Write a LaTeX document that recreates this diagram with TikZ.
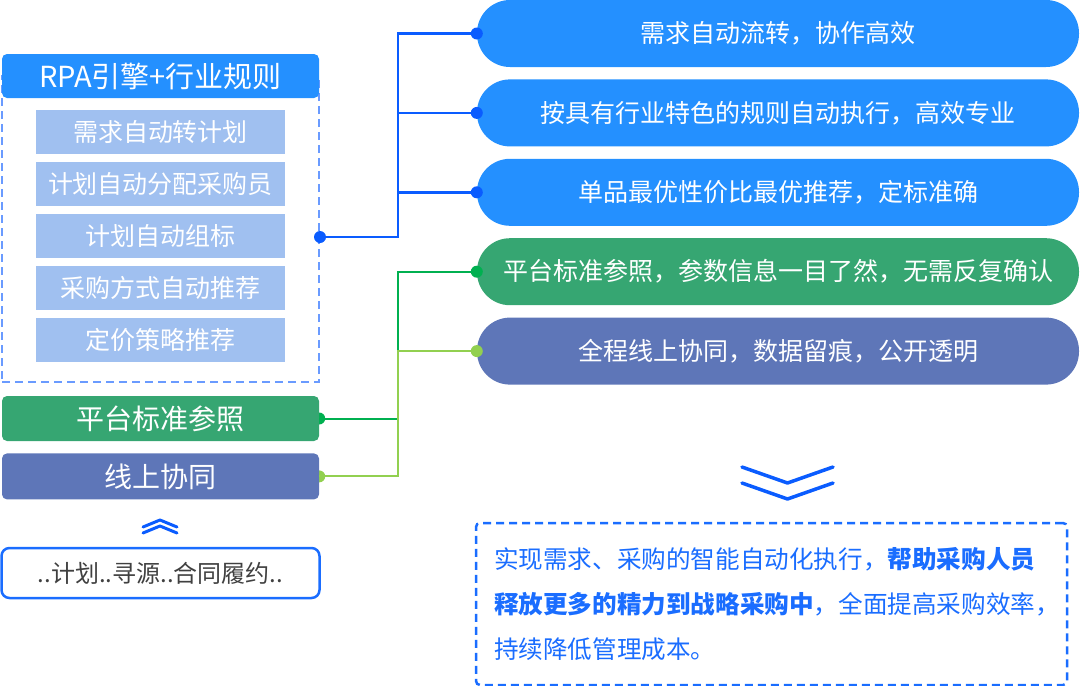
\documentclass[tikz,border=0pt]{standalone}
\usepackage{fontspec}
\setmainfont{Noto Sans CJK SC}
\usetikzlibrary{positioning,backgrounds}

\definecolor{pillblue}{HTML}{2490FF}
\definecolor{stepfill}{HTML}{A0C0F0}
\definecolor{tagGreen}{HTML}{36A672}
\definecolor{tagPurple}{HTML}{5E76B8}
\definecolor{linkBlue}{HTML}{0A5CFF}
\definecolor{linkGreen}{HTML}{00B050}
\definecolor{linkLime}{HTML}{92D050}
\definecolor{dashLight}{HTML}{6A9BFF}
\definecolor{sumBlue}{HTML}{1A6DFF}
\definecolor{flowGray}{HTML}{404040}

\begin{document}
\begin{tikzpicture}[x=1pt,y=-1pt,
      pill/.style={
         rectangle,
         rounded corners=33pt,
         fill=#1,
         minimum width=602pt,
         minimum height=67pt,
         inner sep=0pt,
         text=white,
         font=\fontsize{25}{30}\selectfont},
      stepbox/.style={
         fill=stepfill,
         minimum width=249pt,
         minimum height=44pt,
         inner sep=0pt,
         text=white,
         font=\fontsize{25}{29}\selectfont},
      tagbox/.style={
         rounded corners=5pt,
         fill=#1,
         minimum width=317pt,
         minimum height=45pt,
         inner sep=0pt,
         text=white,
         font=\fontsize{28}{32}\selectfont},
      dot/.style={circle,fill=#1,inner sep=0pt,minimum size=12pt},
      blueline/.style={draw=linkBlue,line width=2.5pt},
      greenline/.style={draw=#1,line width=2pt},
      chevron/.style={draw=linkBlue,line width=3.5pt,line cap=round,line join=round},
      node distance=12pt
      ]
      \useasboundingbox (0,0) rectangle (1080,686);

      % left column
      \node[draw=dashLight,line width=2pt,dash pattern=on 8pt off 5pt,
            minimum width=317pt,minimum height=306pt,inner sep=0pt] (rules) at (160.5,229) {};
      \node[fill=pillblue,rounded corners=5pt,minimum width=317pt,minimum height=44pt,
            inner sep=0pt,text=white,font=\fontsize{29}{34}\selectfont] (rpa) at (160.5,76) {RPA引擎+行业规则};
      \node[stepbox] (s1) at (160.5,132) {需求自动转计划};
      \node[stepbox,below=7.5pt of s1] (s2) {计划自动分配采购员};
      \node[stepbox,below=7.5pt of s2] (s3) {计划自动组标};
      \node[stepbox,below=7.5pt of s3] (s4) {采购方式自动推荐};
      \node[stepbox,below=7.5pt of s4] (s5) {定价策略推荐};

      \node[tagbox=tagGreen] (std) at (160.5,418.5) {平台标准参照};
      \node[tagbox=tagPurple,minimum height=46pt,below=of std] (online) {线上协同};

      \node[draw=sumBlue,line width=2.5pt,rounded corners=8pt,minimum width=318pt,
            minimum height=50pt,inner sep=0pt,text=flowGray,
            font=\fontsize{24}{28}\selectfont] (flow) at (160.5,573) {..计划..寻源..合同履约..};

      % right column
      \node[pill=pillblue] (p1) at (778,33.5) {需求自动流转，协作高效};
      \node[pill=pillblue,below=of p1] (p2) {按具有行业特色的规则自动执行，高效专业};
      \node[pill=pillblue,below=of p2] (p3) {单品最优性价比最优推荐，定标准确};
      \node[pill=tagGreen,below=of p3] (p4) {平台标准参照，参数信息一目了然，无需反复确认};
      \node[pill=tagPurple,below=of p4] (p5) {全程线上协同，数据留痕，公开透明};

      \node[draw=sumBlue,line width=2.5pt,dash pattern=on 8pt off 5pt,rounded corners=4pt,
            minimum width=591pt,minimum height=162pt,inner xsep=18pt,inner ysep=0pt,
            text width=555pt,align=left,text=sumBlue,
            font=\fontsize{24.6}{45}\selectfont] (summary) at (771.5,604)
            {实现需求、采购的智能自动化执行，\textbf{帮助采购人员}\\
             \textbf{释放更多的精力到战略采购中}，全面提高采购效率，\\
             持续降低管理成本。};

      % connectors
      \coordinate (hub) at (398,237);
      \draw[blueline] (rules.east |- hub) node[dot=linkBlue] {} -- (hub) |- (p1.west) node[dot=linkBlue] {};
      \draw[blueline] (hub |- p2.west) -- (p2.west) node[dot=linkBlue] {};
      \draw[blueline] (hub |- p3.west) -- (p3.west) node[dot=linkBlue] {};
      \draw[greenline=linkGreen] (std.east) -- (std.east -| hub) |- (p4.west) node[dot=linkGreen] {};
      \draw[greenline=linkLime] (online.east) -- (online.east -| hub) |- (p5.west) node[dot=linkLime] {};
      \begin{scope}[on background layer]
        \node[dot=linkGreen] at (std.east) {};
        \node[dot=linkLime] at (online.east) {};
      \end{scope}

      % chevrons
      \draw[chevron,line width=3pt] (143,527) -- (160,520) -- (177,527);
      \draw[chevron,line width=3pt] (143,533) -- (160,526) -- (177,533);
      \draw[chevron] (742,467) -- (787.5,483) -- (833,467);
      \draw[chevron] (742,483) -- (787.5,499) -- (833,483);
\end{tikzpicture}
\end{document}
